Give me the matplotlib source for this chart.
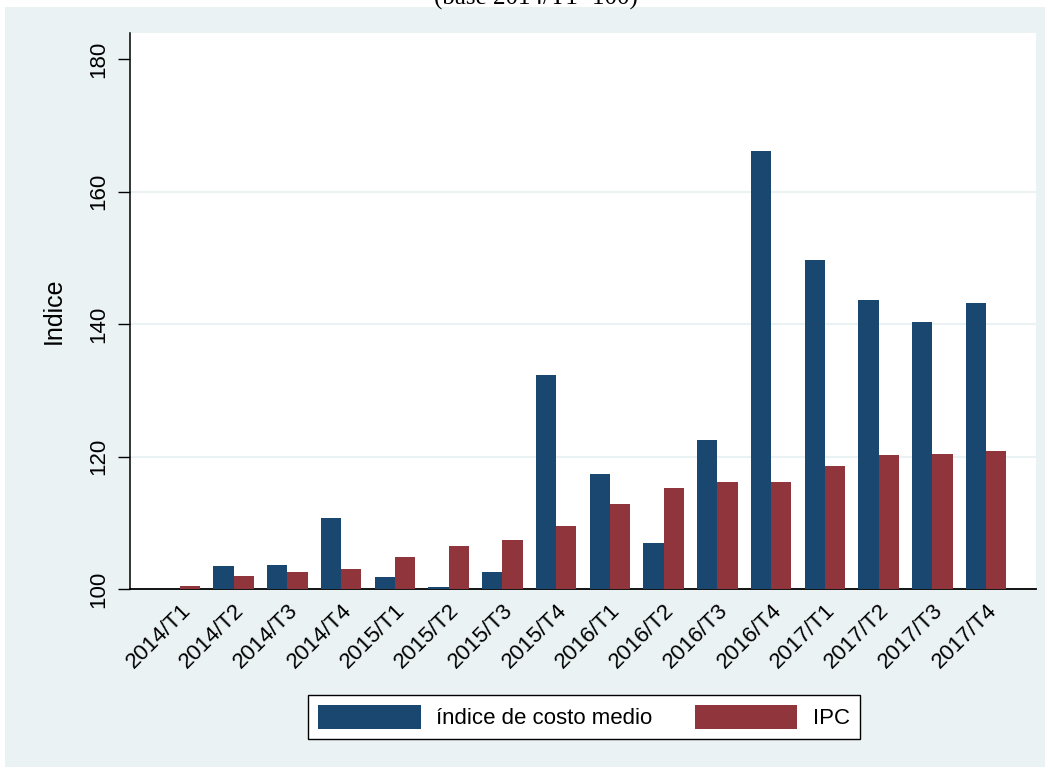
import numpy as np
import matplotlib.pyplot as plt
from matplotlib.patches import Rectangle

# Data
trimestres = ['2014/T1', '2014/T2', '2014/T3', '2014/T4',
              '2015/T1', '2015/T2', '2015/T3', '2015/T4',
              '2016/T1', '2016/T2', '2016/T3', '2016/T4',
              '2017/T1', '2017/T2', '2017/T3', '2017/T4']
costo_medio = [100.0, 103.5, 103.7, 110.7, 101.8, 100.3, 102.5, 132.4,
               117.3, 107.0, 122.5, 166.1, 149.7, 143.7, 140.3, 143.2]
ipc = [100.5, 101.9, 102.5, 103.0, 104.8, 106.5, 107.4, 109.5,
       112.8, 115.2, 116.1, 116.1, 118.6, 120.2, 120.4, 120.8]
yticks = [100, 120, 140, 160, 180]
grid_vals = [120, 140, 160]

blue = '#1a476f'
red = '#90353b'
bg = '#eaf2f3'

plt.rcParams['font.family'] = ['Liberation Sans', 'DejaVu Sans']

fig = plt.figure(figsize=(10.5, 7.7), dpi=100)
fig.patch.set_facecolor('white')
# graph region background
fig.patches.append(Rectangle((5 / 1050, 3 / 770), 1040 / 1050, 760 / 770,
                             transform=fig.transFigure, facecolor=bg,
                             edgecolor='none', zorder=-5))
# subtitle, cut off at the top edge as in the source image
fig.text(0.51, 1.0 + 2 / 770, '(base 2014/T1=100)', ha='center', va='center',
         family='Liberation Serif', fontsize=18)

ax = fig.add_axes([130 / 1050, 1 - 589 / 770, 906 / 1050, 556 / 770])
ax.set_facecolor('white')

x = np.arange(len(trimestres))
w = 0.378
ax.bar(x - w / 2, np.array(costo_medio) - 100, w, bottom=100, color=blue,
       label='índice de costo medio', zorder=3)
ax.bar(x + w / 2, np.array(ipc) - 100, w, bottom=100, color=red,
       label='IPC', zorder=3)

for g in grid_vals:
    ax.axhline(g, color=bg, lw=1.5, zorder=1)

ax.set_ylim(100, 184)
ax.set_xlim(-0.93, len(trimestres) - 1 + 0.93)
ax.set_yticks(yticks)
ax.set_yticklabels([str(v) for v in yticks], rotation=90, va='center',
                   fontsize=16)
ax.set_xticks(x)
ax.set_xticklabels(trimestres, rotation=45, ha='right',
                   rotation_mode='anchor', fontsize=16)
ax.tick_params(axis='x', length=0, pad=8)
ax.tick_params(axis='y', length=9, width=1, pad=6)
ax.set_ylabel('Indice', fontsize=18, labelpad=16)

for s in ['top', 'right']:
    ax.spines[s].set_visible(False)
ax.spines['left'].set_linewidth(1.1)
ax.spines['bottom'].set_linewidth(1.3)

leg = fig.legend(loc='center', bbox_to_anchor=(584 / 1050, 1 - 717 / 770),
                 ncol=2, fontsize=16, frameon=True, fancybox=False,
                 framealpha=1, facecolor='white',
                 handlelength=4.6, handleheight=1.3, columnspacing=1.9,
                 handletextpad=0.7, borderpad=0.45)
leg.get_frame().set_edgecolor('black')
leg.get_frame().set_linewidth(1.0)

fig.savefig('out.png', dpi=100, facecolor=fig.get_facecolor())
